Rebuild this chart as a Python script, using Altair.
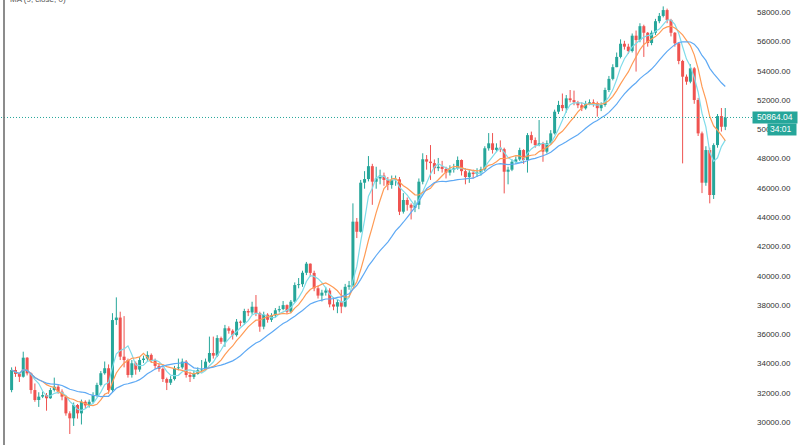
import altair as alt
import pandas as pd

# ---------------- data (4H candles) ----------------
open0 = 32250
closes = [
    33620, 33350, 33160, 34460, 33390, 32250, 31570, 31800, 31910, 31690,
    32250, 32480, 32140, 31800, 30660, 30320, 31230, 30660, 31450, 31200,
    31450, 31900, 32600, 33400, 33740, 32250, 37030, 37200, 34530, 34300,
    33280, 34080, 33650, 34300, 34400, 34650, 34300, 33900, 33700, 33000,
    32750, 33000, 33740, 33800, 34190, 33280, 33150, 33350, 33600, 33650,
    34190, 34780, 34600, 35800, 35550, 36470, 36300, 36000, 36920, 36850,
    37650, 37550, 37940, 37500, 36580, 37400, 37050, 37350, 37700, 37780,
    38050, 37600, 38280, 39420, 39480, 40260, 40880, 40250, 39200, 38700,
    38900, 39050, 38100, 37950, 38250, 37950, 39300, 39400, 43750, 43060,
    46410, 46660, 47540, 46480, 46700, 46900, 46600, 46250, 46600, 46640,
    44430, 45230, 44900, 44700, 44900, 46480, 48010, 47850, 47750, 47400,
    47500, 47350, 47100, 47300, 47400, 47960, 47200, 46800, 47100, 47000,
    47100, 47320, 48760, 49100, 48650, 48800, 48700, 47160, 47300, 47840,
    48000, 48640, 47960, 49660, 49320, 48980, 49100, 48530, 49100, 49780,
    51260, 51720, 51500, 52170, 52050, 51900, 51700, 51490, 51800, 51900,
    51850, 51500, 51720, 52740, 53500, 54300, 55000, 55900, 55700, 55400,
    56450, 56150, 57100, 56650, 55950, 56650, 57440, 57800, 58200, 57520,
    56650, 55930, 54720, 53650, 53310, 54220, 52060, 49780, 46410, 48640,
    45570, 48980, 50960, 50230, 50864.04,
]
highs = [
    33800, 33850, 33400, 34870, 34500, 33450, 32700, 32100, 32150, 32050,
    32400, 33100, 32600, 32300, 31900, 30800, 31400, 31300, 31600, 31550,
    31600, 32100, 32750, 33550, 34200, 34000, 37500, 38580, 37600, 37300,
    34400, 34300, 34200, 34500, 34600, 34900, 34750, 34400, 34100, 33800,
    33100, 33200, 33900, 34400, 34400, 34300, 33500, 33600, 33800, 34300,
    34400, 35900, 35900, 36000, 35900, 36700, 36600, 36400, 37100, 37000,
    37800, 37800, 38280, 38740, 37600, 37600, 37500, 37500, 37850, 38000,
    38330, 38100, 38400, 39600, 39900, 40400, 41000, 40900, 40400, 39400,
    39100, 39300, 39200, 38600, 38400, 39100, 39500, 39700, 45000, 44000,
    46600, 47200, 48230, 47700, 47500, 47300, 47100, 46800, 46900, 46900,
    46800, 45700, 45400, 45000, 45200, 46700, 48420, 48300, 48980, 48000,
    48100, 47900, 47500, 47600, 47700, 48200, 48000, 47400, 47300, 47300,
    47400, 47500, 48900, 49800, 49800, 49100, 49300, 48800, 47500, 48000,
    48200, 48800, 48700, 49800, 49900, 49500, 50690, 49200, 49300, 50000,
    51400, 52000, 52500, 52400, 52740, 52700, 52000, 51900, 52000, 52100,
    52100, 51950, 51900, 52900, 53700, 54500, 55300, 56200, 56100, 55900,
    56600, 56800, 57300, 57200, 56700, 56800, 57600, 58000, 58450, 58300,
    57600, 56700, 56000, 54800, 53800, 54500, 54300, 52200, 49900, 48900,
    48800, 49100, 51100, 51510, 51510,
]
lows = [
    32100, 33150, 32800, 33100, 33250, 32000, 31450, 31100, 31700, 30840,
    31650, 32150, 32000, 31550, 30500, 29250, 29800, 30300, 29900, 31000,
    31050, 31350, 31800, 32500, 33300, 32000, 32100, 36700, 34300, 33800,
    33100, 33100, 33300, 33500, 34100, 34250, 34100, 33700, 33500, 32800,
    32250, 32600, 32900, 33600, 33700, 33100, 32800, 33000, 33300, 33450,
    33600, 34100, 34400, 34500, 35400, 35200, 36100, 35700, 35900, 36600,
    36700, 37300, 37400, 37300, 36230, 36400, 36850, 36900, 37200, 37550,
    37700, 37450, 37500, 38200, 39200, 39300, 40100, 40000, 39000, 38500,
    38300, 38700, 37900, 37700, 37500, 37500, 37900, 39100, 39300, 42630,
    43000, 46000, 46500, 44900, 46000, 46300, 46200, 45900, 46000, 46200,
    44200, 44300, 44500, 43900, 44400, 44600, 46300, 47300, 46600, 47000,
    47200, 47100, 46700, 46900, 47100, 47300, 46900, 46300, 46400, 46700,
    46800, 46900, 47200, 48600, 48400, 48500, 48500, 45680, 46300, 47200,
    47700, 47900, 47700, 47100, 49100, 48800, 48900, 47840, 48400, 49000,
    49700, 51100, 51300, 51200, 51900, 51700, 51500, 51300, 51400, 51700,
    51600, 50920, 51300, 51600, 52600, 53400, 54300, 54900, 55500, 55200,
    55300, 54000, 56000, 55000, 55700, 55800, 56500, 57300, 57700, 57300,
    56400, 55700, 54500, 47730, 53100, 53200, 51800, 49600, 45700, 46200,
    45000, 45300, 48800, 49900, 50000,
]
last_price = 50864.04
countdown = "34:01"
ma_label = "MA (9, close, 0)"
price_ticks = list(range(30000, 58001, 2000))
day_grid = [16.3, 40.8, 58.8, 83, 101, 125.5, 143.8, 168, 185.8]
ma_specs = [(5, "#7fdcea"), (9, "#ff9b55"), (20, "#5ea9f4")]

# ---------------- table ----------------
n = len(closes)
opens = [open0] + closes[:-1]
df = pd.DataFrame({"idx": list(range(n)), "open": opens, "close": closes,
                   "high": highs, "low": lows})
df["high"] = df[["high", "open", "close"]].max(axis=1)
df["low"] = df[["low", "open", "close"]].min(axis=1)
df["dir"] = ["up" if c >= o else "down" for o, c in zip(opens, closes)]
ticks_df = pd.DataFrame({"v": price_ticks,
                         "t": [f"{v:.2f}" for v in price_ticks]})

W, H = 752, 445
xs = alt.Scale(domain=[-1.704, 189.6], nice=False, zero=False)
ys = alt.Scale(domain=[28498, 58887], nice=False, zero=False)
col = alt.Color("dir:N", scale=alt.Scale(domain=["up", "down"],
                range=["#26a69a", "#ef5350"]), legend=None)

x_axis = alt.Axis(values=day_grid, grid=True, gridColor="#f0f3fa", gridWidth=1,
                  labels=False, ticks=False, domain=False, title=None)
y_axis = alt.Axis(orient="right", values=price_ticks, grid=True,
                  gridColor="#f0f3fa", gridWidth=1, domain=True,
                  domainColor="#d6d9e0", tickColor="#b2b5be", tickSize=3,
                  labels=False, title=None)

base = alt.Chart(df)

wicks = base.mark_rule(strokeWidth=1).encode(
    x=alt.X("idx:Q", scale=xs, axis=x_axis),
    y=alt.Y("low:Q", scale=ys, axis=y_axis),
    y2="high:Q",
    color=col,
)
bodies = base.mark_bar(size=3).encode(
    x=alt.X("idx:Q", scale=xs, axis=None),
    y=alt.Y("open:Q", scale=ys, axis=None),
    y2="close:Q",
    color=col,
)

ma_layers = []
for length, c in ma_specs:
    ma_layers.append(
        base.transform_window(ma="mean(close)", frame=[-(length - 1), 0],
                              sort=[alt.SortField("idx")])
        .mark_line(color=c, strokeWidth=1.2)
        .encode(x=alt.X("idx:Q", scale=xs, axis=None),
                y=alt.Y("ma:Q", scale=ys, axis=None))
    )

tick_labels = alt.Chart(ticks_df).mark_text(
    align="left", baseline="middle", fontSize=8, color="#333333",
    font="Liberation Sans").encode(
    x=alt.value(757), y=alt.Y("v:Q", scale=ys, axis=None), text="t:N")

pdf = alt.Chart(pd.DataFrame({"p": [last_price], "lab": [f"{last_price:.2f}"],
                              "cd": [countdown]}))
price_line = pdf.mark_rule(strokeDash=[1, 2], color="#26a69a", strokeWidth=1).encode(
    y=alt.Y("p:Q", scale=ys, axis=None))
price_box = pdf.mark_tick(orient="horizontal", size=45, thickness=12,
                          color="#26a69a", opacity=1).encode(
    x=alt.value(775), y=alt.Y("p:Q", scale=ys, axis=None))
price_text = pdf.mark_text(align="left", baseline="middle", color="white",
                           fontSize=8.5, font="Liberation Sans").encode(
    x=alt.value(757), y=alt.Y("p:Q", scale=ys, axis=None), text="lab:N")
cd_box = pdf.mark_tick(orient="horizontal", size=29, thickness=12, yOffset=12,
                       color="#26a69a", opacity=1).encode(
    x=alt.value(782), y=alt.Y("p:Q", scale=ys, axis=None))
cd_text = pdf.mark_text(align="left", baseline="middle", color="white", dy=12,
                        fontSize=8.5, font="Liberation Sans").encode(
    x=alt.value(770), y=alt.Y("p:Q", scale=ys, axis=None), text="cd:N")

left_line = pdf.mark_rule(color="#666666", strokeWidth=1.5).encode(
    x=alt.value(4), y=alt.value(0), y2=alt.value(H))
label = pdf.mark_text(align="left", baseline="alphabetic", fontSize=8,
                      color="#555555", font="Liberation Sans").encode(
    x=alt.value(10), y=alt.value(2), text=alt.value(ma_label))

chart = alt.layer(
    wicks, bodies, *ma_layers, price_line, left_line, label, tick_labels,
    price_box, price_text, cd_box, cd_text,
).properties(
    width=W, height=H,
    padding={"left": 0, "top": 0, "right": 48, "bottom": 0},
    autosize=alt.AutoSizeParams(type="none"),
    background="white",
).configure_view(stroke=None)

chart.save("out.html", embed_options={"renderer": "svg", "actions": False})
